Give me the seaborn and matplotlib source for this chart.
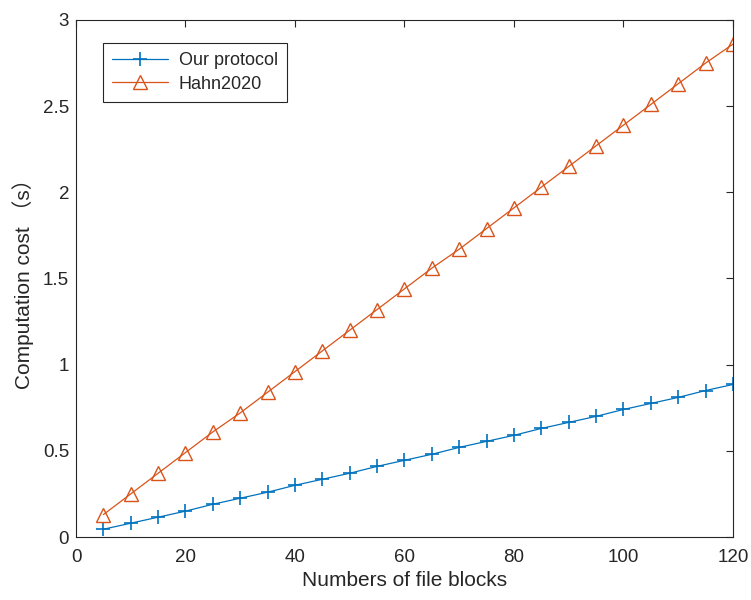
import numpy as np
import pandas as pd
import matplotlib
matplotlib.use("Agg")
import matplotlib.pyplot as plt
import seaborn as sns

blocks = [5, 10, 15, 20, 25, 30, 35, 40, 45, 50, 55, 60,
          65, 70, 75, 80, 85, 90, 95, 100, 105, 110, 115, 120]
ours = [0.045, 0.08, 0.115, 0.15, 0.19, 0.225, 0.26, 0.30, 0.335, 0.37, 0.41, 0.445,
        0.48, 0.52, 0.555, 0.59, 0.63, 0.665, 0.70, 0.74, 0.775, 0.81, 0.85, 0.885]
hahn = [0.13, 0.25, 0.37, 0.49, 0.61, 0.72, 0.84, 0.96, 1.08, 1.20, 1.32, 1.44,
        1.56, 1.67, 1.79, 1.91, 2.03, 2.15, 2.27, 2.39, 2.51, 2.63, 2.75, 2.86]

sns.set_style("white")
plt.rcParams['font.family'] = ['Liberation Sans', 'Noto Sans CJK SC', 'DejaVu Sans']

fig = plt.figure(figsize=(7.51, 6.0), dpi=100)
ax = fig.add_axes([0.1012, 0.105, 0.8748, 0.8617])

# line-art "+" and hollow triangle can't share one style mapping, so two calls
sns.lineplot(x=blocks, y=ours, color="#0072BD", marker="+", markersize=10.5,
             markeredgecolor="#0072BD", markeredgewidth=1.2, linewidth=0.9,
             label="Our protocol", ax=ax)
sns.lineplot(x=blocks, y=hahn, color="#D95319", marker="^", markersize=10.5,
             markerfacecolor="none", markeredgecolor="#D95319", markeredgewidth=1.0,
             linewidth=0.9, label="Hahn2020", ax=ax)

ax.set_xlim(0, 120)
ax.set_ylim(0, 3)
ax.set_xticks(np.arange(0, 121, 20))
ax.set_yticks(np.arange(0, 3.01, 0.5))
ax.set_yticklabels(["0", "0.5", "1", "1.5", "2", "2.5", "3"])
ax.tick_params(direction="in", top=True, right=True, length=5, width=0.8,
               labelsize=13.5, colors="#262626")
ax.tick_params(axis="x", pad=9)
ax.tick_params(axis="y", pad=5)
for s in ax.spines.values():
    s.set_color("#262626")
    s.set_linewidth(0.8)

ax.set_xlabel("Numbers of file blocks", fontsize=15, color="#262626", labelpad=3)
ax.set_ylabel("Computation cost （s）", fontsize=15, color="#262626", labelpad=6)

leg = ax.legend(loc="upper left", bbox_to_anchor=(0.041, 0.955), borderaxespad=0,
                fontsize=13, frameon=True, fancybox=False, framealpha=1,
                edgecolor="#262626", handlelength=3.1, handletextpad=0.6,
                borderpad=0.5, labelspacing=0.35)
leg.get_frame().set_linewidth(0.8)

plt.savefig("out.png", dpi=100)
